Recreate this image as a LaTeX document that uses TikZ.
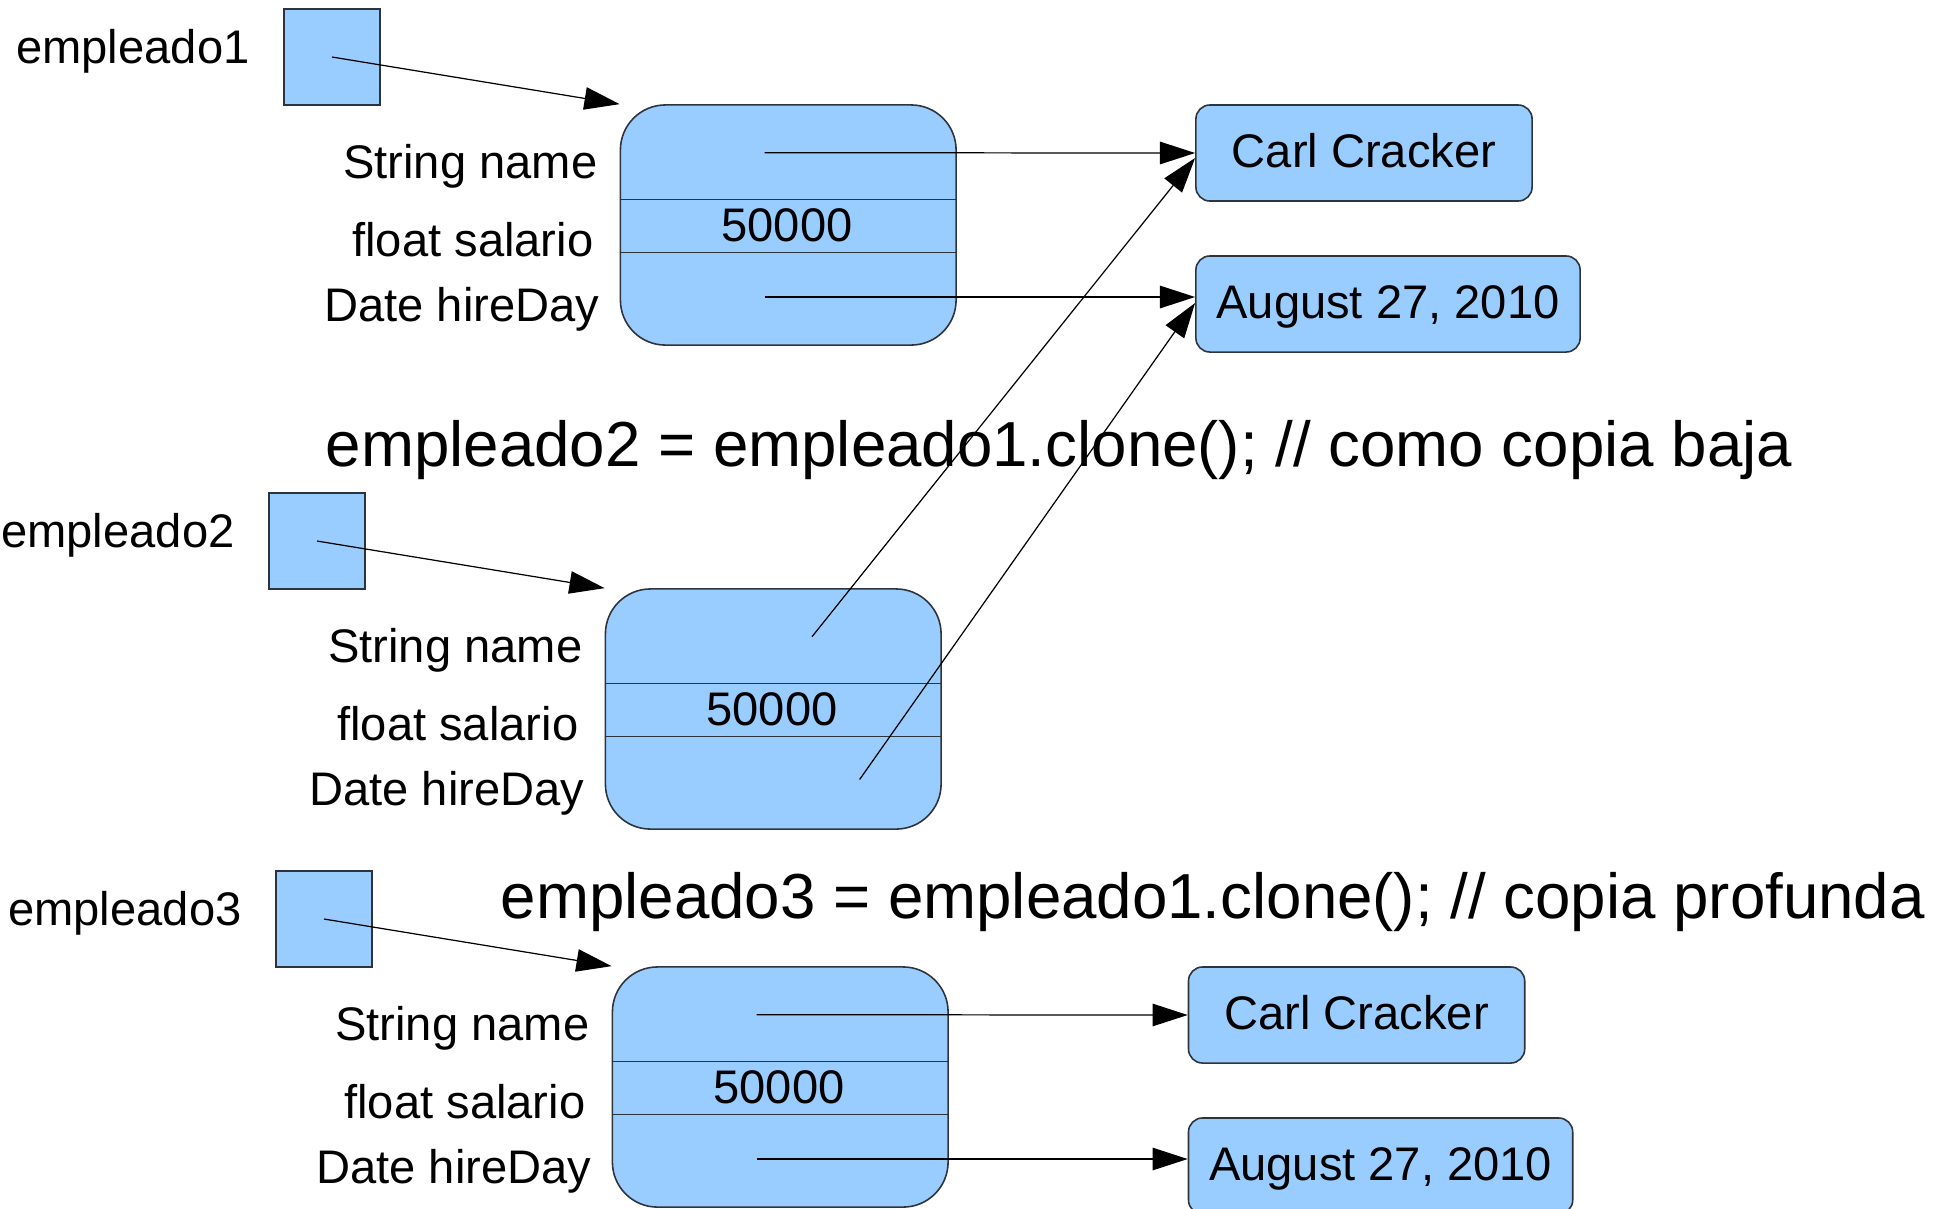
\documentclass[tikz,border=0pt]{standalone}
\usepackage{fontspec}
\setmainfont{Liberation Sans}
\usetikzlibrary{arrows.meta,calc}
\definecolor{boxfill}{RGB}{153,204,255}
\definecolor{boxline}{RGB}{45,52,60}
\newcommand{\empblock}[3]{%
\begin{scope}[shift={#3}]
  \node[refbox] (s#1) at (332,57) {};
  \node[lbl,anchor=base west] (e#1) at (15.6,63.3) {#2};
  \node[objbox] (o#1) at (788.25,225) {};
  \draw[divider] ($(o#1.north west)+(0,95.5)$) -- ($(o#1.north east)+(0,95.5)$);
  \draw[divider] ($(o#1.north west)+(0,148.5)$) -- ($(o#1.north east)+(0,148.5)$);
  \node[lbl,anchor=base east] (sn#1) at (598,178) {String name};
  \node[lbl,anchor=base east] (fs#1) at (594,256.7) {float salario};
  \node[lbl,anchor=base east] (dh#1) at (600,321.7) {Date hireDay};
  \node[lbl,anchor=base] (v#1) at (787,241.7) {50000};
  \coordinate (n#1) at (764.5,152.7);
  \coordinate (d#1) at (764.5,297);
  \coordinate (nn#1) at (827,152.7);
  \coordinate (dd#1) at (874.6,295.5);
  \draw[ptr] (s#1.center) -- (o#1.north west);
\end{scope}}
\begin{document}
\begin{tikzpicture}[x=0.01cm,y=-0.01cm,
  lbl/.style={font=\fontsize{13.4pt}{16pt}\selectfont, inner sep=0pt},
  ttl/.style={font=\fontsize{18.1pt}{22pt}\selectfont, inner sep=0pt},
  refbox/.style={draw=boxline, fill=boxfill, line width=0.45pt, minimum width=0.96cm, minimum height=0.96cm, inner sep=0pt},
  objbox/.style={draw=boxline, fill=boxfill, line width=0.45pt, rounded corners=0.45cm, minimum width=3.355cm, minimum height=2.40cm, inner sep=0pt},
  valbox/.style={draw=boxline, fill=boxfill, line width=0.45pt, rounded corners=0.14cm, minimum height=0.96cm, inner sep=0pt, font=\fontsize{13.4pt}{16pt}\selectfont, text height=8.5pt, text depth=0pt},
  ptr/.style={-{Triangle[length=10pt,width=6.4pt]}, line width=0.35pt, black},
  divider/.style={draw=boxline, line width=0.45pt}
]
\useasboundingbox (0,0) rectangle (1945,1208);
\clip (0,0) rectangle (1945,1208);

% block 1
\empblock{1}{empleado1}{(0,0)}
\node[valbox, minimum width=3.36cm] (c1) at (1364,153) {Carl Cracker};
\node[valbox, minimum width=3.84cm] (a1) at (1388,304) {August 27, 2010};
\draw[ptr] (n1) -- (c1.west);
\draw[ptr] (d1) -- (d1 -| a1.west);

% title 2
\node[ttl, anchor=base west] (t2) at (325,466.7) {empleado2 = empleado1.clone(); // como copia baja};

% block 2
\empblock{2}{empleado2}{(-15,484)}
\draw[ptr] (nn2) -- ($(c1.west)+(0,5)$);
\draw[ptr] (dd2) -- ($(a1.west)+(0,-1)$);

% title 3
\node[ttl, anchor=base west] (t3) at (500,918.3) {empleado3 = empleado1.clone(); // copia profunda};

% block 3
\empblock{3}{empleado3}{(-8,862)}
\node[valbox, minimum width=3.36cm] (c3) at (1356.6,1015) {Carl Cracker};
\node[valbox, minimum width=3.84cm] (a3) at (1380.6,1166) {August 27, 2010};
\draw[ptr] (n3) -- (c3.west);
\draw[ptr] (d3) -- (d3 -| a3.west);
\end{tikzpicture}
\end{document}
